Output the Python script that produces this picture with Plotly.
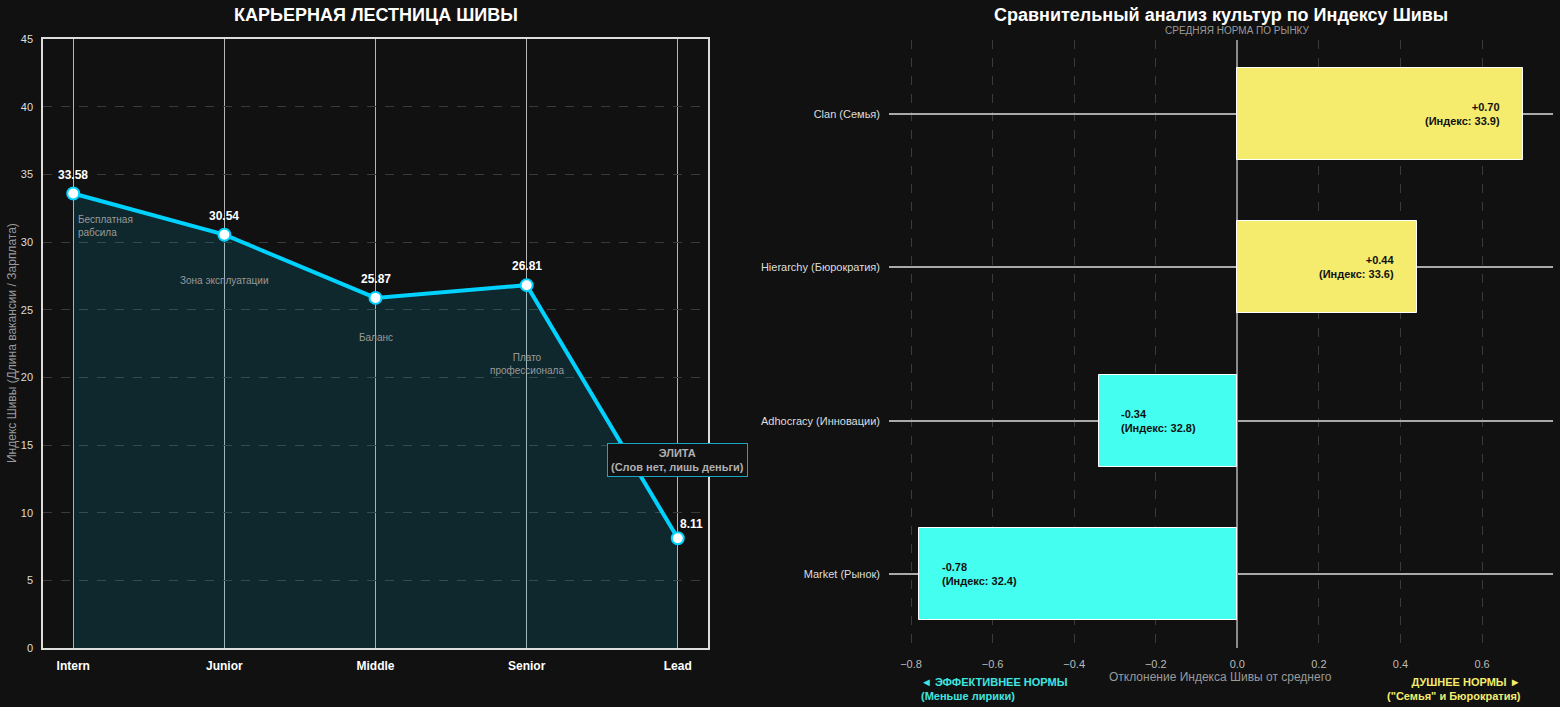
import plotly.graph_objects as go

# ---------------- DATA ----------------
levels = ["Intern", "Junior", "Middle", "Senior", "Lead"]
shiva_index = [33.58, 30.54, 25.87, 26.81, 8.11]
zone_notes = ["Бесплатная<br>рабсила", "Зона эксплуатации", "Баланс", "Плато<br>профессионала"]
elite_note = "ЭЛИТА<br>(Слов нет, лишь деньги)"

cultures = ["Market (Рынок)", "Adhocracy (Инновации)", "Hierarchy (Бюрократия)", "Clan (Семья)"]
deviation = [-0.78, -0.34, 0.44, 0.70]
culture_index = [32.4, 32.8, 33.6, 33.9]

left_ticks = [0, 5, 10, 15, 20, 25, 30, 35, 40, 45]
right_ticks = [-0.8, -0.6, -0.4, -0.2, 0.0, 0.2, 0.4, 0.6]

# ---------------- STYLE ----------------
BG = "#111111"
CYAN = "#00d2ff"
BAR_CYAN = "#44fff0"
BAR_YELLOW = "#f5ec6e"
FONT = "Liberation Sans, Arial, sans-serif"
W, H = 1560, 707


def px_x(p):
    return p / W


def px_y(p):
    return 1 - p / H


fig = go.Figure()

# Left: career ladder line with fill
fig.add_trace(go.Scatter(
    x=levels, y=shiva_index, mode="lines+markers",
    line=dict(color=CYAN, width=4),
    marker=dict(size=12, color="white", line=dict(color=CYAN, width=2)),
    fill="tozeroy", fillcolor="rgba(0,200,240,0.13)",
    xaxis="x", yaxis="y", showlegend=False, hoverinfo="x+y",
))

# Right: deviation bars
bar_colors = [BAR_CYAN if d < 0 else BAR_YELLOW for d in deviation]
fig.add_trace(go.Bar(
    x=deviation, y=cultures, orientation="h", width=0.6,
    marker=dict(color=bar_colors, line=dict(color="white", width=1)),
    xaxis="x2", yaxis="y2", showlegend=False,
))

annotations = []

# value labels on left chart
for i, (lv, v) in enumerate(zip(levels, shiva_index)):
    last = i == len(levels) - 1
    annotations.append(dict(
        x=lv, y=v, xref="x", yref="y", text=f"{v:.2f}", showarrow=False,
        xanchor="center", yanchor="middle",
        font=dict(family=FONT, size=12, color="white", weight="bold"),
        yshift=19 if not last else 14, xshift=0 if not last else 14,
    ))

# zone notes
note_pos = [(shiva_index[0] - 2.4, "left", 3), (shiva_index[1] - 3.35, "center", 0),
            (shiva_index[2] - 2.9, "center", 0), (shiva_index[3] - 5.8, "center", 0)]
for lv, note, (yy, anc, xs) in zip(levels, zone_notes, note_pos):
    annotations.append(dict(
        x=lv, y=yy, xref="x", yref="y", text=note, showarrow=False,
        xanchor=anc, yanchor="middle", align=anc, xshift=xs,
        font=dict(family=FONT, size=10, color="#9a9a9a"),
    ))

# elite box
annotations.append(dict(
    x=levels[-1], y=13.9, xref="x", yref="y", text=elite_note, showarrow=False,
    xanchor="center", yanchor="middle",
    font=dict(family=FONT, size=11, color="#b0b0b0", weight="bold"),
    bordercolor="#1aa5c4", borderwidth=1, borderpad=3, bgcolor=BG,
))

# bar labels
for c, d, idx in zip(cultures, deviation, culture_index):
    sign = "+" if d > 0 else ""
    annotations.append(dict(
        x=d - 0.05 if d > 0 else d + 0.05, y=c, xref="x2", yref="y2",
        text=f"{sign}{d:.2f}<br>(Индекс: {idx:.1f})", showarrow=False,
        xanchor="right" if d > 0 else "left", yanchor="middle",
        align="right" if d > 0 else "left",
        font=dict(family=FONT, size=11, color="#111111", weight="bold"),
    ))

# titles & side texts
annotations += [
    dict(x=px_x(376), y=px_y(15), xref="paper", yref="paper", text="КАРЬЕРНАЯ ЛЕСТНИЦА ШИВЫ",
         xanchor="center", yanchor="middle",
         showarrow=False, font=dict(family=FONT, size=18, color="white", weight="bold")),
    dict(x=px_x(1221), y=px_y(15), xref="paper", yref="paper",
         text="Сравнительный анализ культур по Индексу Шивы",
         xanchor="center", yanchor="middle",
         showarrow=False, font=dict(family=FONT, size=18, color="white", weight="bold")),
    dict(x=0, y=px_y(31), xref="x2", yref="paper", text="СРЕДНЯЯ НОРМА ПО РЫНКУ",
         xanchor="center", yanchor="middle",
         showarrow=False, font=dict(family=FONT, size=10, color="#9a9a9a")),
    dict(x=px_x(12), y=px_y(343), xref="paper", yref="paper",
         text="Индекс Шивы (Длина вакансии / Зарплата)", textangle=-90,
         xanchor="center", yanchor="middle",
         showarrow=False, font=dict(family=FONT, size=12, color="#9a9a9a")),
    dict(x=px_x(1220), y=px_y(677), xref="paper", yref="paper",
         text="Отклонение Индекса Шивы от среднего",
         xanchor="center", yanchor="middle",
         showarrow=False, font=dict(family=FONT, size=12, color="#9a9a9a")),
    dict(x=min(deviation), y=px_y(689), xref="x2", yref="paper",
         text="◄ ЭФФЕКТИВНЕЕ НОРМЫ<br>(Меньше лирики)", xanchor="left", yanchor="middle",
         align="left", showarrow=False,
         font=dict(family=FONT, size=11, color="#3fe6e0", weight="bold")),
    dict(x=max(deviation), y=px_y(689), xref="x2", yref="paper",
         text="ДУШНЕЕ НОРМЫ ►<br>(\"Семья\" и Бюрократия)", xanchor="right", yanchor="middle",
         align="right", showarrow=False,
         font=dict(family=FONT, size=11, color=BAR_YELLOW, weight="bold")),
]

fig.update_layout(
    width=W, height=H, margin=dict(l=0, r=0, t=0, b=0, autoexpand=False),
    paper_bgcolor=BG, plot_bgcolor=BG,
    font=dict(family=FONT, color="#dddddd"),
    bargap=0,
    xaxis=dict(
        domain=[px_x(43), px_x(708)], type="category", range=[-0.2, 4.2],
        showgrid=True, gridcolor="#b5b5b5", gridwidth=1,
        showline=True, mirror=True, linecolor="#dddddd", linewidth=1.5,
        tickfont=dict(family=FONT, size=12, color="white", weight="bold"),
        ticks="", zeroline=False, automargin=False, ticklabelstandoff=6,
    ),
    yaxis=dict(
        domain=[px_y(648), px_y(39)], range=[0, 45], tickvals=left_ticks,
        showgrid=True, gridcolor="#3a3a3a", griddash="dash", gridwidth=1,
        showline=True, mirror=True, linecolor="#dddddd", linewidth=1.5,
        tickfont=dict(family=FONT, size=11, color="#dddddd"),
        ticks="", zeroline=False, automargin=False, ticklabelstandoff=6,
    ),
    xaxis2=dict(
        domain=[px_x(889), px_x(1553)], anchor="y2", range=[-0.854, 0.774],
        tickvals=right_ticks, ticktext=[f"{t:.1f}".replace("-", "−") for t in right_ticks],
        showgrid=True, gridcolor="#3a3a3a", griddash="dash", gridwidth=1,
        zeroline=True, zerolinecolor="#8a8a8a", zerolinewidth=2,
        showline=False, ticks="", automargin=False, ticklabelstandoff=8,
        tickfont=dict(family=FONT, size=11, color="#bbbbbb"),
    ),
    yaxis2=dict(
        domain=[px_y(648), px_y(40)], anchor="x2",
        type="category", categoryorder="array", categoryarray=cultures,
        range=[-0.48, 3.48],
        showgrid=True, gridcolor="#aaaaaa", gridwidth=1.5,
        showline=False, ticks="", zeroline=False, automargin=False,
        tickfont=dict(family=FONT, size=11, color="#dddddd"),
        ticklabelstandoff=8,
    ),
    annotations=annotations,
)

fig.write_html("out.html")
